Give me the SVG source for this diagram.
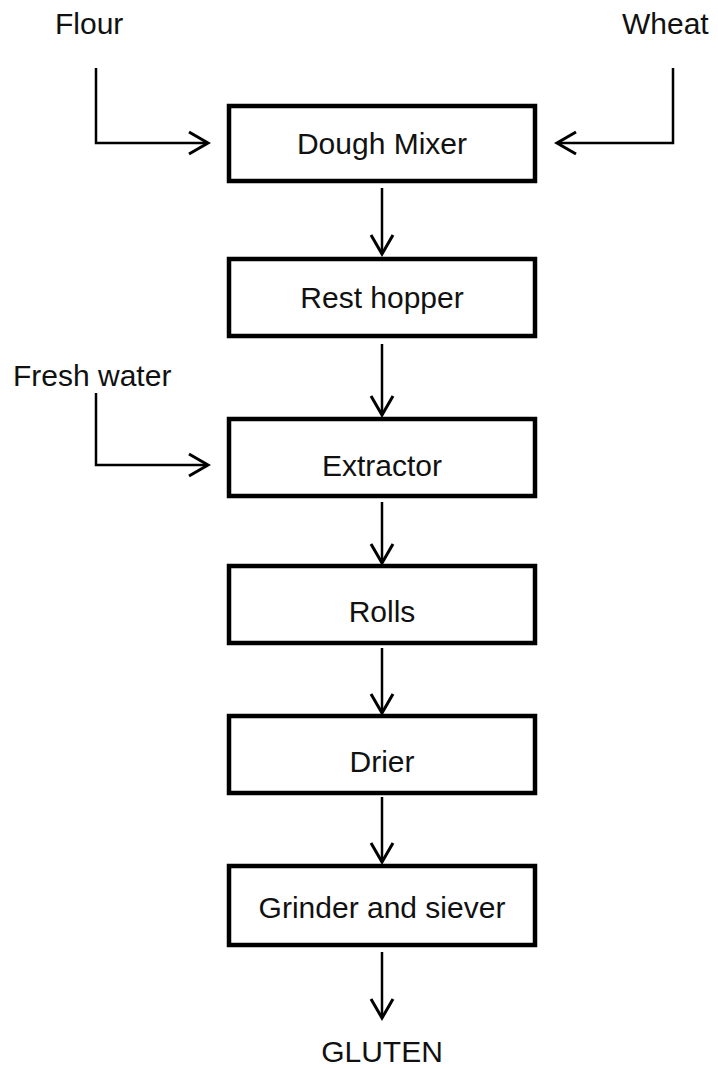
<svg xmlns="http://www.w3.org/2000/svg" width="718" height="1069" viewBox="0 0 718 1069">
<style>
.box{fill:#fff;stroke:#000;stroke-width:4.5}
.lbl{font-family:"Liberation Sans",Arial,sans-serif;font-size:30px;fill:#111;text-anchor:middle}
.in{font-family:"Liberation Sans",Arial,sans-serif;font-size:30px;fill:#111}
.ln{fill:none;stroke:#000;stroke-width:2.5}
</style>
<defs>
<marker id="ah" markerUnits="userSpaceOnUse" markerWidth="24" markerHeight="26" viewBox="0 0 24 26" refX="21" refY="13" orient="auto">
<path d="M2,2 L21,13 L2,24" fill="none" stroke="#000" stroke-width="3"/>
</marker>
</defs>
<rect width="718" height="1069" fill="#fff"/>
<g id="connectors">
<path class="ln" d="M96,68 V143 H208" marker-end="url(#ah)"/>
<path class="ln" d="M673,68 V143 H557" marker-end="url(#ah)"/>
<path class="ln" d="M382,188 V254" marker-end="url(#ah)"/>
<path class="ln" d="M382,344 V415" marker-end="url(#ah)"/>
<path class="ln" d="M96,393 V465 H208" marker-end="url(#ah)"/>
<path class="ln" d="M382,502 V563" marker-end="url(#ah)"/>
<path class="ln" d="M382,648 V713" marker-end="url(#ah)"/>
<path class="ln" d="M382,797 V862" marker-end="url(#ah)"/>
<path class="ln" d="M382,952 V1018" marker-end="url(#ah)"/>
</g>
<g id="flour"><text class="in" x="55" y="34">Flour</text></g>
<g id="wheat"><text class="in" x="622" y="34">Wheat</text></g>
<g id="freshwater"><text class="in" x="13" y="386">Fresh water</text></g>
<g id="doughmixer"><rect class="box" x="229" y="106" width="306" height="75"/><text class="lbl" x="382" y="154">Dough Mixer</text></g>
<g id="resthopper"><rect class="box" x="229" y="259" width="306" height="77"/><text class="lbl" x="382" y="308">Rest hopper</text></g>
<g id="extractor"><rect class="box" x="229" y="419" width="306" height="77"/><text class="lbl" x="382" y="476">Extractor</text></g>
<g id="rolls"><rect class="box" x="229" y="566" width="306" height="77"/><text class="lbl" x="382" y="622">Rolls</text></g>
<g id="drier"><rect class="box" x="229" y="716" width="306" height="77"/><text class="lbl" x="382" y="772">Drier</text></g>
<g id="grinder"><rect class="box" x="229" y="866" width="306" height="79"/><text class="lbl" x="382" y="918">Grinder and siever</text></g>
<g id="gluten"><text class="lbl" x="382" y="1062">GLUTEN</text></g>
</svg>
